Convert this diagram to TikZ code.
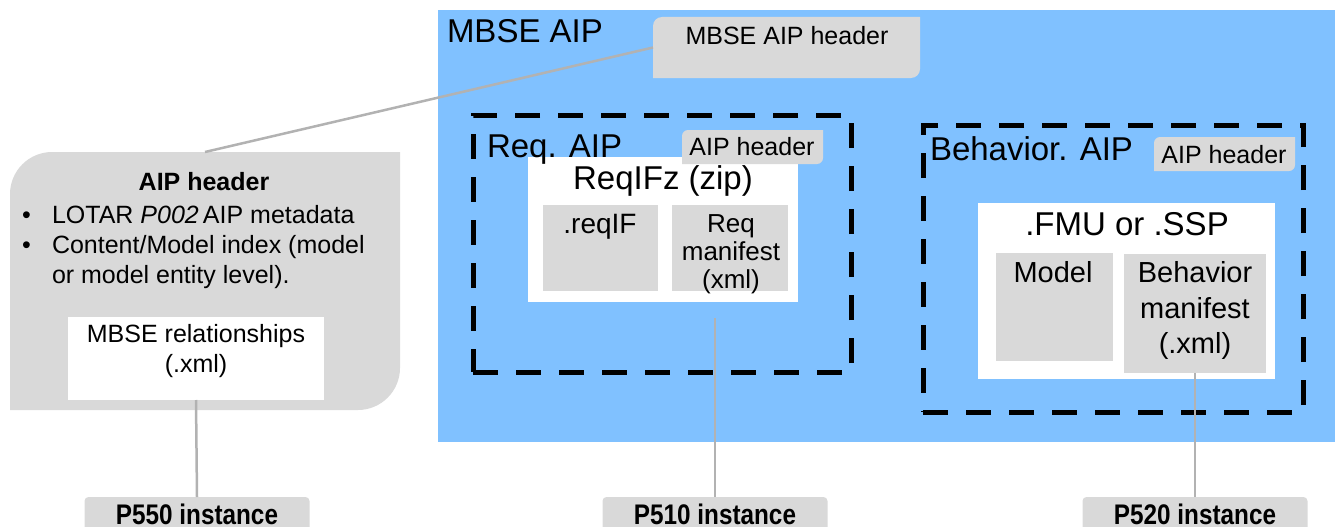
\documentclass[tikz,border=0pt]{standalone}
\usepackage{fontspec}
\setmainfont{Liberation Sans}
\definecolor{aipblue}{RGB}{128,193,255}
\definecolor{hdrgray}{RGB}{217,217,217}
\definecolor{linegray}{RGB}{178,178,178}
% filled box with rounded top-left and bottom-right corners: x1 y1 x2 y2 radius colour
\newcommand\diagfill[6]{%
  \fill[#6] (#1,#4) -- (#1,{#2+#5}) .. controls (#1,{#2+0.45*#5}) and ({#1+0.45*#5},#2) .. ({#1+#5},#2)
    -- (#3,#2) -- (#3,{#4-#5}) .. controls (#3,{#4-0.45*#5}) and ({#3-0.45*#5},#4) .. ({#3-#5},#4) -- cycle;}
\newcommand\fsz[2]{\fontsize{#1}{#2}\selectfont}
\begin{document}
\begin{tikzpicture}[x=1pt,y=-1pt,
  every node/.style={inner sep=0pt, outer sep=0pt},
  area/.style={anchor=north west},
  wbox/.style={area, fill=white},
  gbox/.style={area, fill=hdrgray},
  dashbox/.style={area, draw=black, line width=5pt, dash pattern=on 25pt off 18pt},
  link/.style={draw=linegray, line width=2.5pt},
  pbox/.style={fill=hdrgray, rounded corners=4pt, anchor=north, minimum width=225pt, minimum height=45pt},
  big/.style={font=\fsz{33}{40}},
  mid/.style={font=\fsz{29}{36}},
  small/.style={font=\fsz{25}{30}},
  rman/.style={font=\fsz{26}{28}, anchor=base},
  plabel/.style={anchor=base, font=\bfseries\fsz{27}{30}}]
\useasboundingbox (0,0) rectangle (1338,527);
\clip (0,0) rectangle (1338,527);

% outer MBSE archive package
\node[area, fill=aipblue, minimum width=897pt, minimum height=432pt] (mbseaip) at (438,10) {};
\node[big, anchor=base west] (mbseaiplbl) at (447,43) {MBSE AIP};

% MBSE AIP header
\node[area, minimum width=267pt, minimum height=61pt] (mbsehdr) at (653,17) {};
\diagfill{653}{17}{920}{78}{9}{hdrgray}
\node[small, anchor=base] (mbsehdrlbl) at (787,45) {MBSE AIP header};

% AIP header detail panel
\node[area, minimum width=390pt, minimum height=258pt] (aiphdr) at (10,152) {};
\diagfill{10}{152}{400}{410}{42}{hdrgray}
\node[font=\bfseries\fsz{25}{30}, anchor=base] (aiphdrlbl) at (204,190) {AIP header};
\node[small, anchor=base west] (b1) at (22,223) {\textbullet};
\node[small, anchor=base west] (l1) at (52,223) {LOTAR \textit{P002}\,AIP metadata};
\node[small, anchor=base west] (b2) at (22,253) {\textbullet};
\node[small, anchor=base west] (l2) at (52,253) {Content/Model index (model};
\node[small, anchor=base west] (l3) at (52,283) {or model entity level).};
\node[wbox, minimum width=256pt, minimum height=83pt] (relbox) at (68,317) {};
\node[small, anchor=base] (rel1) at (196,342) {MBSE relationships};
\node[small, anchor=base] (rel2) at (196,372) {(.xml)};

% requirements AIP
\node[dashbox, minimum width=378pt, minimum height=257pt] (reqaip) at (473,115) {};
\node[wbox, minimum width=270pt, minimum height=145pt] (reqzip) at (528,157) {};
\node[big, anchor=base west] (reqaiplbl) at (487,157) {Req. AIP};
\node[area, minimum width=141pt, minimum height=34pt] (reqhdr) at (682,130) {};
\diagfill{682}{130}{823}{164}{6}{hdrgray}
\node[small, anchor=base] (reqhdrlbl) at (752,155) {AIP header};
\node[big, anchor=base] (reqziplbl) at (663,189) {ReqIFz (zip)};
\node[gbox, minimum width=115pt, minimum height=86pt] (reqif) at (543,205) {};
\node[font=\fsz{28}{30}, anchor=base] (reqiflbl) at (600,233) {.reqIF};
\node[gbox, minimum width=116pt, minimum height=86pt] (reqman) at (672,205) {};
\node[rman] (reqman1) at (731,232) {Req};
\node[rman] (reqman2) at (731,260) {manifest};
\node[rman] (reqman3) at (731,288) {(xml)};
\coordinate (reqtail) at (715,318);

% behaviour AIP
\node[dashbox, minimum width=380pt, minimum height=287pt] (behaip) at (923,125) {};
\node[big, anchor=base west] (behaiplbl) at (930,160) {Behavior. AIP};
\node[area, minimum width=141pt, minimum height=34pt] (behhdr) at (1154,137) {};
\diagfill{1154}{137}{1295}{171}{6}{hdrgray}
\node[small, anchor=base] (behhdrlbl) at (1224,163) {AIP header};
\node[wbox, minimum width=297pt, minimum height=176pt] (fmu) at (978,203) {};
\node[big, anchor=base] (fmulbl) at (1127,235) {.FMU or .SSP};
\node[gbox, minimum width=117pt, minimum height=108pt] (model) at (996,253) {};
\node[mid, anchor=base] (modellbl) at (1053,282) {Model};
\node[gbox, minimum width=142pt, minimum height=119pt] (behman) at (1124,254) {};
\node[mid, anchor=base] (behman1) at (1195,282) {Behavior};
\node[mid, anchor=base] (behman2) at (1195,318) {manifest};
\node[mid, anchor=base] (behman3) at (1195,353) {(.xml)};

% instance boxes
\node[pbox] (p550) at (197,497) {};
\node[plabel] (p550lbl) at (197,524) {\scalebox{0.9}[1.05]{P550 instance}};
\node[pbox] (p510) at (715,497) {};
\node[plabel] (p510lbl) at (715,524) {\scalebox{0.9}[1.05]{P510 instance}};
\node[pbox] (p520) at (1195,497) {};
\node[plabel] (p520lbl) at (1195,524) {\scalebox{0.9}[1.05]{P520 instance}};

% connectors
\draw[link] (mbsehdr.west) -- (aiphdr.north);
\draw[link] (relbox.south) -- (p550.north);
\draw[link] (reqtail) -- (p510.north);
\draw[link] (behman.south) -- (p520.north);
\end{tikzpicture}
\end{document}
